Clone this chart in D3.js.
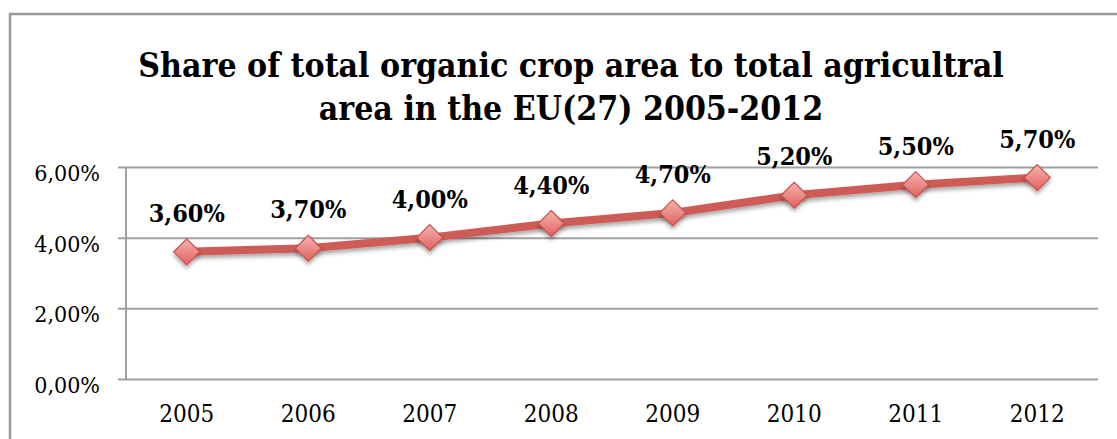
<!DOCTYPE html>
<html>
<head>
<meta charset="utf-8">
<script src="https://cdn.jsdelivr.net/npm/d3@7"></script>
<style>
  body { margin: 0; background: #fff; }
  svg { display: block; }
</style>
</head>
<body>
<svg class="chart" width="1117" height="439"></svg>
<script>
const years = ["2005", "2006", "2007", "2008", "2009", "2010", "2011", "2012"];
const shares = [0.036, 0.037, 0.040, 0.044, 0.047, 0.052, 0.055, 0.057];
const yTicks = [0, 0.02, 0.04, 0.06];
const titleLines = [
  "Share of total organic crop area to total agricultral",
  "area in the EU(27) 2005-2012"
];

(() => {
  const svg = d3.select(".chart");
  const font = "'DejaVu Serif Condensed', 'DejaVu Serif', serif";
  const fmt = (v) => d3.format(".2f")(v * 100).replace(".", ",") + "%";

  const plotLeft = 126, plotRight = 1098, plotTop = 167, plotBottom = 379;

  // outer frame
  svg.append("rect")
    .attr("x", 10).attr("y", 14)
    .attr("width", 1200).attr("height", 500)
    .attr("fill", "none")
    .attr("stroke", "#9a9a9a")
    .attr("stroke-width", 2.5);

  const defs = svg.append("defs");
  const grad = defs.append("linearGradient")
    .attr("id", "mk").attr("x1", 0).attr("y1", 0).attr("x2", 0).attr("y2", 1);
  grad.append("stop").attr("offset", "0%").attr("stop-color", "#f7b3b0");
  grad.append("stop").attr("offset", "100%").attr("stop-color", "#e0615c");
  const shadow = defs.append("filter").attr("id", "sh")
    .attr("x", "-50%").attr("y", "-50%").attr("width", "200%").attr("height", "200%");
  shadow.append("feDropShadow")
    .attr("dx", 0).attr("dy", 3).attr("stdDeviation", 2)
    .attr("flood-color", "#000").attr("flood-opacity", 0.35);

  const x = d3.scaleBand().domain(years).range([plotLeft, plotRight]);
  const y = d3.scaleLinear().domain([0, 0.06]).range([plotBottom, plotTop]);

  // gridlines + y axis
  const yAxis = d3.axisLeft(y).tickValues(yTicks)
    .tickSize(-(plotRight - plotLeft)).tickPadding(26).tickFormat(fmt);
  const gy = svg.append("g").attr("transform", `translate(${plotLeft},0)`).call(yAxis);
  gy.select(".domain").remove();
  gy.selectAll(".tick line")
    .attr("x1", -8)
    .attr("stroke", "#a0a0a0").attr("stroke-width", 2);
  gy.selectAll(".tick text")
    .attr("dy", "0.58em")
    .attr("font-family", font).attr("font-size", 23).attr("fill", "#000");

  svg.append("line")
    .attr("x1", plotLeft).attr("x2", plotLeft)
    .attr("y1", plotTop).attr("y2", plotBottom)
    .attr("stroke", "#a0a0a0").attr("stroke-width", 2);

  // x axis
  const gx = svg.append("g").attr("transform", `translate(0,${plotBottom})`)
    .call(d3.axisBottom(x).tickSize(0).tickPadding(26));
  gx.select(".domain").remove();
  gx.selectAll(".tick text")
    .attr("font-family", font).attr("font-size", 24).attr("fill", "#000");

  const cx = (d, i) => x(years[i]) + x.bandwidth() / 2;

  // line
  svg.append("path")
    .datum(shares)
    .attr("fill", "none")
    .attr("stroke", "#cd5c57")
    .attr("stroke-width", 8)
    .attr("stroke-linejoin", "round")
    .attr("filter", "url(#sh)")
    .attr("d", d3.line().x(cx).y((d) => y(d)));

  // markers
  svg.append("g").selectAll("path")
    .data(shares)
    .join("path")
    .attr("transform", (d, i) => `translate(${cx(d, i)},${y(d)})`)
    .attr("d", "M0,-13L13,0L0,13L-13,0Z")
    .attr("fill", "url(#mk)")
    .attr("stroke", "#c9504b")
    .attr("stroke-width", 1.2)
    .attr("filter", "url(#sh)");

  // data labels
  svg.append("g").selectAll("text")
    .data(shares)
    .join("text")
    .attr("x", cx)
    .attr("y", (d) => y(d) - 30)
    .attr("text-anchor", "middle")
    .attr("font-family", font)
    .attr("font-weight", "bold")
    .attr("font-size", 25)
    .text(fmt);

  // title
  svg.append("g").selectAll("text")
    .data(titleLines)
    .join("text")
    .attr("x", 571)
    .attr("y", (d, i) => 77 + i * 43)
    .attr("text-anchor", "middle")
    .attr("font-family", font)
    .attr("font-weight", "bold")
    .attr("font-size", 33.5)
    .text((d) => d);
})();
</script>
</body>
</html>
